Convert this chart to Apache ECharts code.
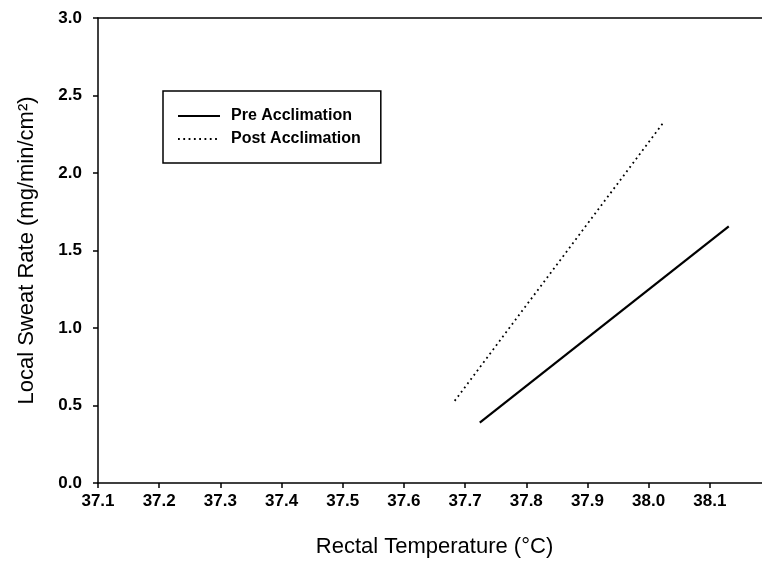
<!DOCTYPE html>
<html>
<head>
<meta charset="utf-8">
<script src="https://cdn.jsdelivr.net/npm/echarts@6/dist/echarts.min.js"></script>
<style>
  html, body { margin: 0; padding: 0; background: #fff; }
  #chart { width: 762px; height: 565px; }
</style>
</head>
<body>
<div id="chart"></div>
<script>
var seriesNames = ['Pre Acclimation', 'Post Acclimation'];
// regression lines: [rectal temp, sweat rate] at each end
var preLine = [[37.724, 0.39], [38.131, 1.655]];
var postLine = [[37.683, 0.53], [38.025, 2.33]];

var myChart = echarts.init(document.getElementById('chart'));
var font = 'Liberation Sans, Arial, sans-serif';

option = {
    backgroundColor: '#fff',
    animation: false,
    grid: {
        left: 98,
        top: 18,
        width: 673,
        height: 465,
        outerBoundsMode: 'none'
    },
    legend: {
        left: 163,
        top: 91,
        orient: 'vertical',
        data: seriesNames,
        borderColor: '#000',
        borderWidth: 1.5,
        padding: [17, 20, 16, 14],
        itemGap: 7,
        itemWidth: 42,
        itemHeight: 16,
        itemStyle: { opacity: 0 },
        textStyle: {
            fontFamily: font, fontSize: 16, fontWeight: 'bold', color: '#000',
            lineHeight: 16, padding: [0, 0, 0, 6]
        }
    },
    xAxis: [{
        type: 'value',
        min: 37.1,
        max: 38.2,
        interval: 0.1,
        name: 'Rectal Temperature (°C)',
        nameLocation: 'middle',
        nameGap: 53,
        nameTextStyle: { fontFamily: font, fontSize: 22, color: '#000' },
        axisLine: { lineStyle: { color: '#000', width: 1.5 } },
        axisTick: { length: 5, lineStyle: { color: '#000', width: 1.5 } },
        axisLabel: {
            margin: 10,
            fontFamily: font, fontSize: 17, fontWeight: 'bold', color: '#000',
            formatter: function (v) { return v >= 38.15 ? '' : v.toFixed(1); }
        },
        splitLine: { show: false }
    }, {
        type: 'value',
        position: 'top',
        min: 37.1,
        max: 38.2,
        axisLine: { show: true, lineStyle: { color: '#000', width: 1.5 } },
        axisTick: { show: false },
        axisLabel: { show: false },
        splitLine: { show: false }
    }],
    yAxis: {
        type: 'value',
        min: 0,
        max: 3,
        interval: 0.5,
        name: 'Local Sweat Rate (mg/min/cm²)',
        nameLocation: 'middle',
        nameRotate: 90,
        nameGap: 60,
        nameTextStyle: { fontFamily: font, fontSize: 22, color: '#000' },
        axisLine: { show: true, lineStyle: { color: '#000', width: 1.5 } },
        axisTick: { show: true, length: 5, lineStyle: { color: '#000', width: 1.5 } },
        axisLabel: {
            margin: 16,
            fontFamily: font, fontSize: 17, fontWeight: 'bold', color: '#000',
            formatter: function (v) { return v.toFixed(1); }
        },
        splitLine: { show: false }
    },
    series: [{
        name: seriesNames[0],
        type: 'line',
        data: preLine,
        symbol: 'none',
        itemStyle: { color: '#000' },
        lineStyle: { color: '#000', width: 2.2 }
    }, {
        name: seriesNames[1],
        type: 'line',
        data: postLine,
        symbol: 'none',
        itemStyle: { color: '#000' },
        lineStyle: { color: '#000', width: 1.8, type: [1.8, 3.5] }
    }]
};
myChart.setOption(option, true);

window.onresize = function(){
    myChart.resize();}
</script>
</body>
</html>
